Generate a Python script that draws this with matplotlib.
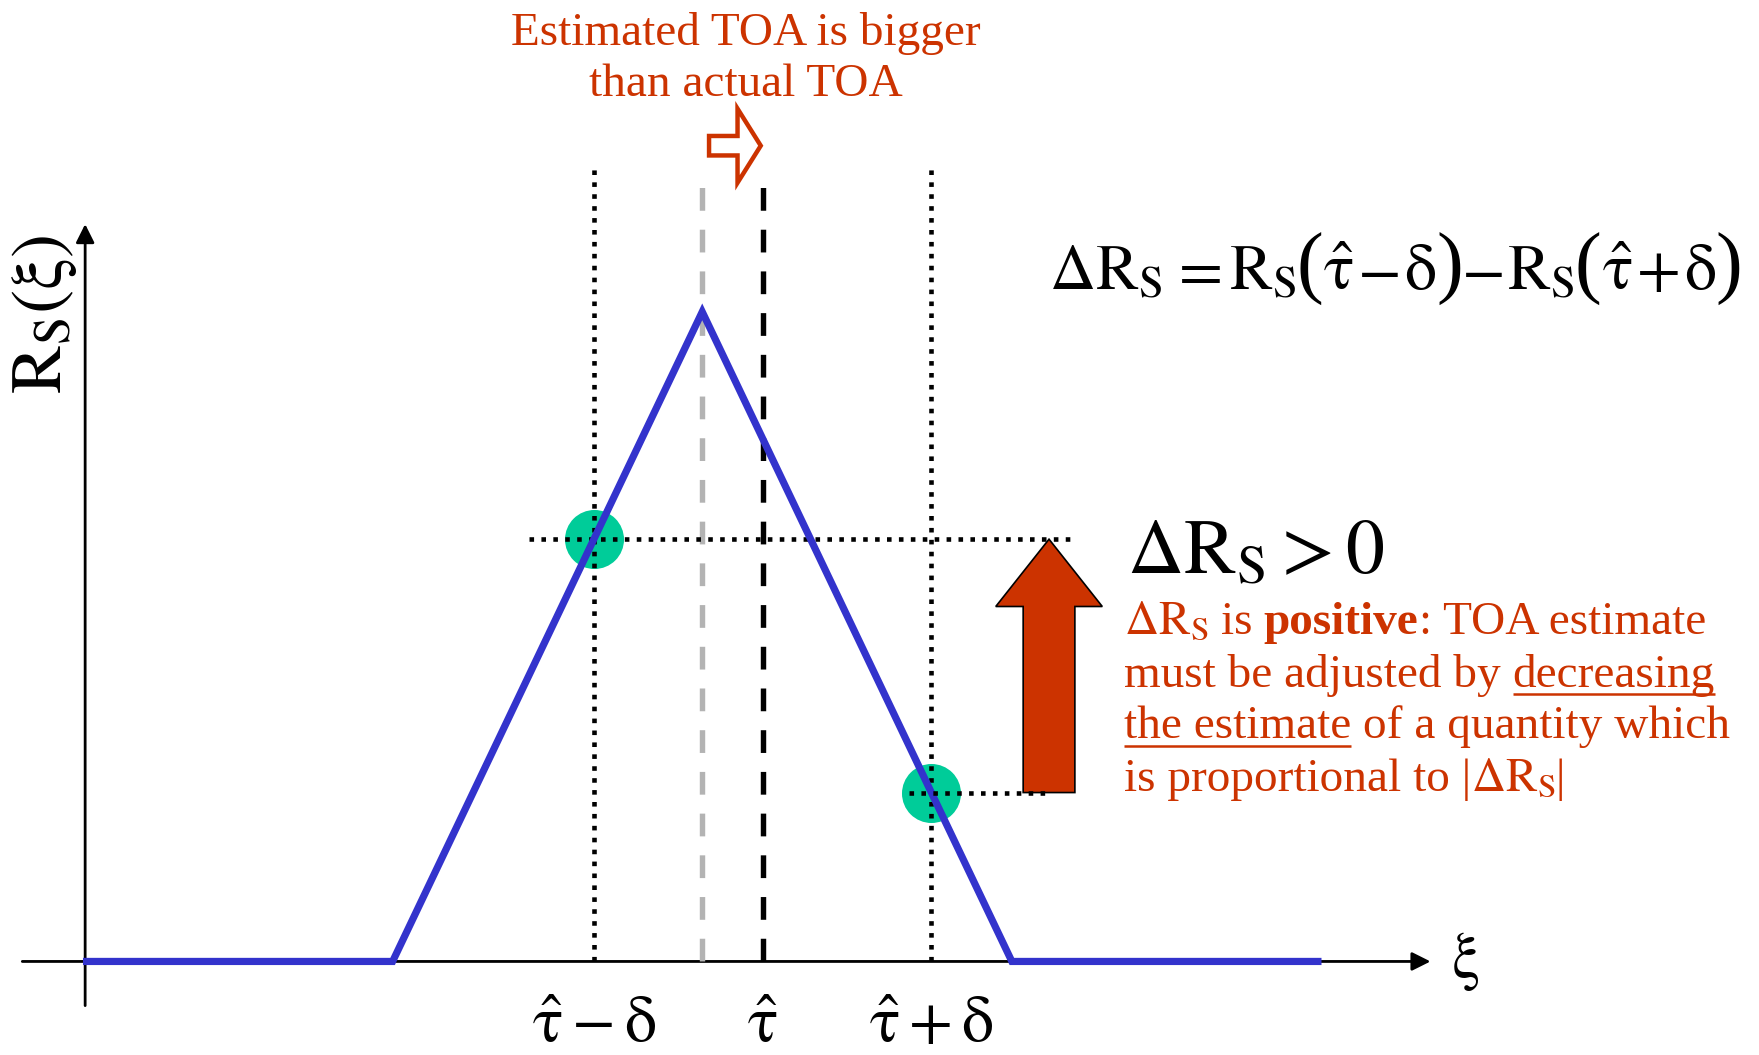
import numpy as np
import matplotlib
matplotlib.use("Agg")
import matplotlib.pyplot as plt
from matplotlib.patches import FancyArrow

plt.rcParams["font.family"] = ["Liberation Serif", "DejaVu Serif"]
plt.rcParams["mathtext.fontset"] = "stix"

# ---------------------------------------------------------------- data
# triangular autocorrelation R_S(xi); the actual TOA sits at the peak
knot_xi = [-2.0, -1.0, 0.0, 1.0, 2.0]
knot_r = [0.0, 0.0, 1.0, 0.0, 0.0]
tau_actual = 0.0
tau_hat = 0.195         # estimated TOA (later than the actual one)
delta = 0.545           # early / late offset
early_late = [tau_hat - delta, tau_hat + delta]
sample_r = list(np.interp(early_late, knot_xi, knot_r))
tick_pos = [tau_hat - delta, tau_hat, tau_hat + delta]
tick_labels = [r"$\hat{\mathrm{\tau}}-\mathrm{\delta}$", r"$\hat{\mathrm{\tau}}$",
               r"$\hat{\mathrm{\tau}}+\mathrm{\delta}$"]

RED = "#cc3300"
BLUE = "#3333cc"
GREEN = "#00cc99"
GRAY = "#b3b3b3"

fig = plt.figure(figsize=(17.59, 10.55), dpi=100)
ax = fig.add_axes([0, 0, 1, 1])
ax.set_xlim(-2.268, 3.413)
ax.set_ylim(-0.144, 1.480)
ax.axis("off")
renderer = fig.canvas.get_renderer()

# ---------------------------------------------------------------- axes arrows
arrow_kw = dict(arrowstyle="-|>,head_length=0.8,head_width=0.4",
                color="black", lw=2.0, shrinkA=0, shrinkB=0, mutation_scale=14)
ax.annotate("", xy=(2.352, 0), xytext=(-2.196, 0), arrowprops=arrow_kw, zorder=2)
ax.annotate("", xy=(-1.993, 1.135), xytext=(-1.993, -0.068), arrowprops=arrow_kw, zorder=2)

# ---------------------------------------------------------------- guide lines
guide_top = 1.22
dot = (0, (1, 1.6))
dot_lw = 3.3
for xp in early_late:
    ax.plot([xp, xp], [0, guide_top], color="black", lw=dot_lw, ls=dot, zorder=3)
ax.plot([tau_actual, tau_actual], [0, guide_top], color=GRAY, lw=3.9,
        ls=(0, (4.2, 3.5)), zorder=3)
ax.plot([tau_hat, tau_hat], [0, guide_top], color="black", lw=3.9,
        ls=(0, (4.2, 3.5)), zorder=3)
ax.plot([-0.558, 1.203], [sample_r[0], sample_r[0]], color="black", lw=dot_lw,
        ls=dot, zorder=3)
ax.plot([0.667, 1.109], [sample_r[1], sample_r[1]], color="black", lw=dot_lw,
        ls=dot, zorder=6)

# ---------------------------------------------------------------- samples and curve
ax.plot(early_late, sample_r, "o", ms=42.5, color=GREEN, mec="none", zorder=1)
ax.plot(knot_xi, knot_r, color=BLUE, lw=5.2, solid_joinstyle="miter",
        solid_capstyle="butt", zorder=4)

# ---------------------------------------------------------------- arrows
ax.add_patch(FancyArrow(1.12, sample_r[1], 0, sample_r[0] - sample_r[1],
                        width=0.167, head_width=0.344, head_length=0.1036,
                        length_includes_head=True, fc=RED, ec="black",
                        lw=1.2, zorder=5))
ax.add_patch(FancyArrow(tau_actual + 0.022, 1.2557, tau_hat - tau_actual - 0.028, 0,
                        width=0.03, head_width=0.114, head_length=0.075,
                        length_includes_head=True, fc="white", ec=RED,
                        lw=3.2, joinstyle="miter", zorder=5))


# ---------------------------------------------------------------- text helper
def draw_runs(x0, y0, runs, color="black", size=34):
    """Lay out styled pieces of text one after another on a baseline.

    Each run is (text, options); options may hold 'size', 'weight',
    'underline' and 'gap' (extra advance in pixels before the piece).
    Leading blanks are turned into word spaces of the run's font size.
    """
    x_disp, y_disp = ax.transData.transform((x0, y0))
    for text, opts in runs:
        fs = opts.get("size", size)
        stripped = text.lstrip(" ")
        x_disp += 0.25 * fs * fig.dpi / 72.0 * (len(text) - len(stripped))
        x_disp += opts.get("gap", 0.0)
        x_here = ax.transData.inverted().transform((x_disp, y_disp))[0]
        t = ax.text(x_here, y0, stripped, color=color, fontsize=fs,
                    fontweight=opts.get("weight", "normal"),
                    ha="left", va="baseline")
        width = t.get_window_extent(renderer).width
        x_end = ax.transData.inverted().transform((x_disp + width, y_disp))[0]
        if opts.get("underline", False):
            ax.plot([x_here, x_end], [y0 - 0.0118, y0 - 0.0118], color=color,
                    lw=1.8, solid_capstyle="butt")
        x_disp += width


# ---------------------------------------------------------------- labels
for xp, lab in zip(tick_pos, tick_labels):
    ax.text(xp, -0.124, lab, ha="center", va="baseline", fontsize=46)
ax.text(2.465, 0.0, r"$\mathrm{\xi}$", ha="center", va="center", fontsize=46)
ax.text(-2.123, 0.9966, r"$\mathrm{R}_\mathrm{S}(\mathrm{\xi})$", rotation=90,
        ha="center", va="center", fontsize=52)

ax.text(0.14, 1.411, "Estimated TOA is bigger", color=RED, fontsize=34,
        ha="center", va="baseline")
ax.text(0.14, 1.3317, "than actual TOA", color=RED, fontsize=34,
        ha="center", va="baseline")

# difference of the early and late correlation samples
RS = r"$\mathrm{R}_\mathrm{S}$"
paren = dict(size=58)
draw_runs(1.12, 1.0347, [
    (r"$\Delta\mathrm{R}_\mathrm{S}$", {}),
    (r"$=$", dict(gap=6)),
    (RS, dict(gap=8)),
    ("(", dict(paren, gap=0)),
    (r"$\hat{\mathrm{\tau}}$", dict(gap=0)),
    (r"$-$", dict(gap=4)),
    (r"$\mathrm{\delta}$", dict(gap=5)),
    (")", dict(paren, gap=0)),
    (r"$-$", dict(gap=-2)),
    (RS, dict(gap=5)),
    ("(", dict(paren, gap=0)),
    (r"$\hat{\mathrm{\tau}}$", dict(gap=0)),
    (r"$+$", dict(gap=4)),
    (r"$\mathrm{\delta}$", dict(gap=5)),
    (")", dict(paren, gap=0)),
], size=46)

ax.text(1.373, 0.5977, r"$\Delta\mathrm{R}_\mathrm{S} > 0$", fontsize=56,
        ha="left", va="baseline")

# ---------------------------------------------------------------- explanation
para_x = 1.3625
para_lines = [
    (0.5042, [(r"$\Delta\mathrm{R}_\mathrm{S}$", {}), (" is", {}),
              (" positive", dict(weight="bold")), (": TOA estimate", {})]),
    (0.4231, [("must be adjusted by", {}), (" decreasing", dict(underline=True))]),
    (0.3436, [("the estimate", dict(underline=True)), (" of a quantity which", {})]),
    (0.2625, [("is proportional to |", {}), (r"$\Delta\mathrm{R}_\mathrm{S}$", {}),
              ("|", {})]),
]
for y_line, runs in para_lines:
    draw_runs(para_x, y_line, runs, color=RED, size=34)

fig.savefig("out.png", dpi=100)
